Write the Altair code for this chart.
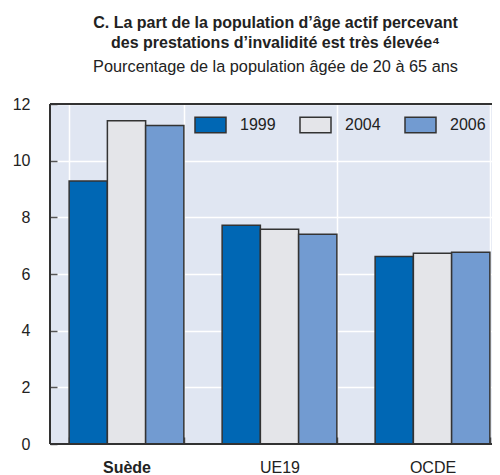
import altair as alt
import pandas as pd

FONT = "Liberation Sans, Arial, sans-serif"

categories = ["Suède", "UE19", "OCDE"]
years = ["1999", "2004", "2006"]
v1999 = [9.28, 7.72, 6.62]
v2004 = [11.41, 7.58, 6.73]
v2006 = [11.24, 7.40, 6.77]
y_ticks = [0, 2, 4, 6, 8, 10, 12]
colors = ["#0067b4", "#e4e5e9", "#729bd1"]

rows = []
for i, c in enumerate(categories):
    for y, vals in zip(years, [v1999, v2004, v2006]):
        rows.append({"pays": c, "annee": y, "valeur": vals[i]})
df = pd.DataFrame(rows)

W = 442
H = 340

bars = alt.Chart(df).mark_bar(stroke="#333333", strokeWidth=1.5).encode(
    x=alt.X(
        "pays:N",
        sort=categories,
        scale=alt.Scale(range=[0, 459], paddingInner=0.25, paddingOuter=0.125),
        axis=alt.Axis(
            title=None, labelAngle=0, tickBand="extent", grid=True,
            gridColor="white", gridWidth=1.5, domain=False, offset=-7,
            tickSize=7, tickColor="#555555", tickWidth=1.5,
            labelFont=FONT, labelFontSize=16, labelColor="#222222",
            labelPadding=15,
            labelFontWeight=alt.expr("datum.value == 'Suède' ? 'bold' : 'normal'"),
        ),
    ),
    xOffset=alt.XOffset("annee:N", sort=years,
                        scale=alt.Scale(paddingInner=0, paddingOuter=0)),
    y=alt.Y(
        "valeur:Q",
        scale=alt.Scale(domain=[0, 12], nice=False),
        axis=alt.Axis(
            title=None, values=y_ticks, grid=True, gridColor="white",
            gridWidth=1.5, domain=False, offset=-7, tickSize=7,
            tickColor="#555555", tickWidth=1.5, labelFont=FONT,
            labelFontSize=16, labelColor="#222222", labelPadding=20,
        ),
    ),
    color=alt.Color(
        "annee:N",
        scale=alt.Scale(domain=years, range=colors),
        legend=alt.Legend(
            title=None, orient="none", legendX=144, legendY=4,
            direction="horizontal", symbolType="M-1,-0.5H1V0.5H-1Z",
            symbolSize=961, symbolStrokeColor="#333333",
            symbolStrokeWidth=1.5, symbolOpacity=1, labelFont=FONT,
            labelFontSize=16, labelColor="#222222", labelOffset=13,
            columnPadding=21, padding=0,
        ),
    ),
)

frame_h = alt.Chart(df).mark_rule(color="#333333", strokeWidth=1.5).encode(
    y=alt.datum(0), x=alt.value(0), x2=alt.value(470)
)
frame_t = alt.Chart(df).mark_rule(color="#333333", strokeWidth=1.5).encode(
    y=alt.datum(12), x=alt.value(0), x2=alt.value(470)
)
frame_l = alt.Chart(df).mark_rule(color="#333333", strokeWidth=1.5).encode(
    x=alt.value(0), y=alt.value(0), y2=alt.value(H)
)

chart = alt.layer(bars, frame_h, frame_t, frame_l).properties(
    width=W,
    height=H,
    autosize=alt.AutoSizeParams(type="none"),
    padding={"left": 42, "top": 96, "right": 0, "bottom": 31},
    background="white",
    title=alt.TitleParams(
        text=["C. La part de la population d’âge actif percevant",
              "des prestations d’invalidité est très élevée⁴"],
        subtitle="Pourcentage de la population âgée de 20 à 65 ans",
        font=FONT, fontSize=16, fontWeight="bold", color="#222222",
        lineHeight=19.5, subtitleFont=FONT, subtitleFontSize=16.3,
        subtitleColor="#222222", subtitlePadding=8, anchor="middle",
        offset=21, dx=4.5,
    ),
).configure_view(fill="#e0e6f2", stroke=None)

chart.save("out.html", embed_options={"renderer": "svg", "actions": False})
